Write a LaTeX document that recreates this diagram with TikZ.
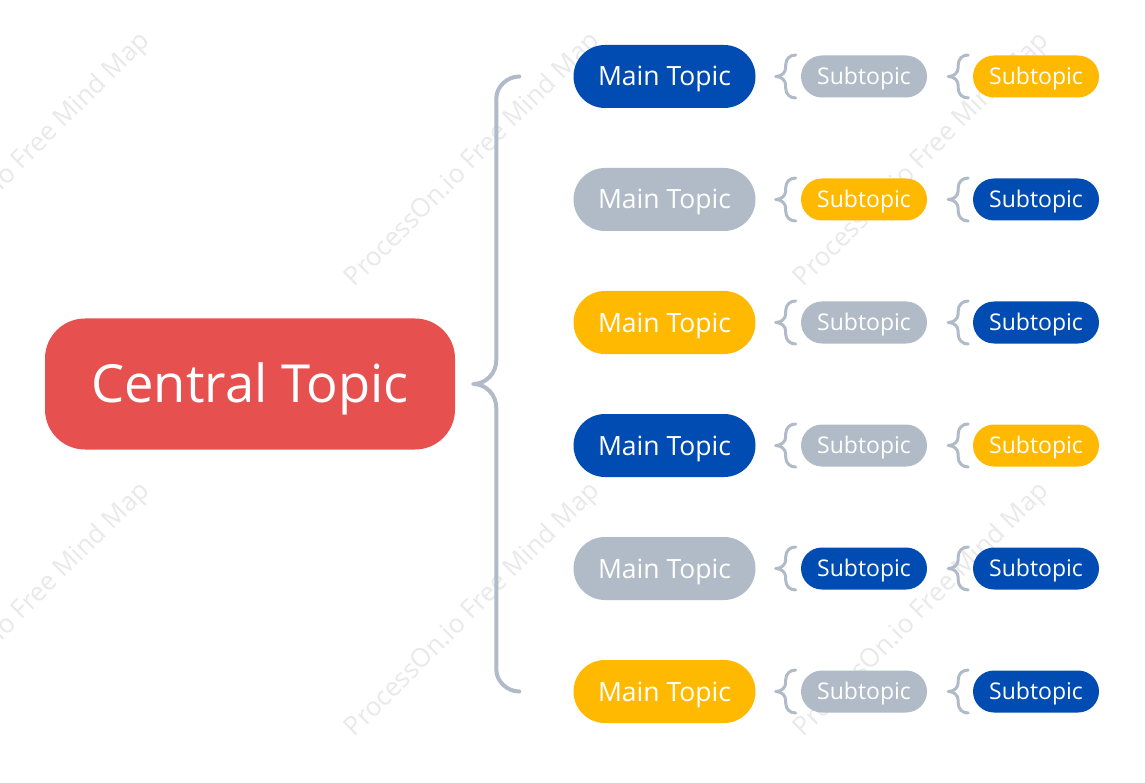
\documentclass[tikz,border=0pt]{standalone}
\usepackage{fontspec}
\setmainfont{Open Sans}
\usetikzlibrary{calc}
\definecolor{cblue}{RGB}{0,76,178}
\definecolor{cgray}{RGB}{176,187,199}
\definecolor{cyellow}{RGB}{255,185,0}
\definecolor{cred}{RGB}{230,80,79}
\definecolor{cline}{RGB}{176,187,199}
\definecolor{cwm}{RGB}{233,233,233}
\tikzset{
  box/.style={inner sep=0pt, text=white, text depth=0pt, align=center},
  central/.style={box, fill=cred, minimum width=410, minimum height=131, rounded corners=40, text height=37pt, font=\fontsize{52.5}{60}\selectfont},
  maintopic/.style={box, minimum width=182, minimum height=63, rounded corners=31.5, text height=19pt, font=\fontsize{26.5}{30}\selectfont},
  subtopic/.style={box, minimum width=126, minimum height=42, rounded corners=21, text height=16.4pt, font=\fontsize{23}{27}\selectfont},
  bbrace/.style={draw=cline, line width=4, line cap=round, line join=round},
  sbrace/.style={draw=cline, line width=3, line cap=round, line join=round},
  wm/.style={text=cwm, font=\fontsize{26}{30}\selectfont, rotate=45, inner sep=0pt},
  sbr/.pic={\draw[sbrace] (20,-21.5) .. controls (14,-21.5) and (10,-17.5) .. (10,-11.5) -- (10,-9)
      .. controls (10,-4) and (6,0) .. (0,0)
      .. controls (6,0) and (10,4) .. (10,9) -- (10,11.5)
      .. controls (10,17.5) and (14,21.5) .. (20,21.5);}
}
\begin{document}
\begin{tikzpicture}[x=1pt,y=-1pt]
\useasboundingbox (0,0) rectangle (1145,783);
\clip (0,0) rectangle (1145,783);
\fill[white] (0,0) rectangle (1145,783);
% watermark
\node[wm] (w1) at (23,160) {ProcessOn.io Free Mind Map};
\node[wm] (w2) at (473,160) {ProcessOn.io Free Mind Map};
\node[wm] (w3) at (922,160) {ProcessOn.io Free Mind Map};
\node[wm] (w4) at (23,610) {ProcessOn.io Free Mind Map};
\node[wm] (w5) at (473,610) {ProcessOn.io Free Mind Map};
\node[wm] (w6) at (922,610) {ProcessOn.io Free Mind Map};
% central
\node[central] (c) at (250,384) {Central Topic};
% main topics
\node[maintopic, fill=cblue]   (m1) at (664.5,76.5)  {Main Topic};
\node[maintopic, fill=cgray]   (m2) at (664.5,199.5) {Main Topic};
\node[maintopic, fill=cyellow] (m3) at (664.5,322.5) {Main Topic};
\node[maintopic, fill=cblue]   (m4) at (664.5,445.5) {Main Topic};
\node[maintopic, fill=cgray]   (m5) at (664.5,568.5) {Main Topic};
\node[maintopic, fill=cyellow] (m6) at (664.5,691.5) {Main Topic};
% subtopics column 1
\node[subtopic, fill=cgray]   (s1a) at (864,76.5)  {Subtopic};
\node[subtopic, fill=cyellow] (s2a) at (864,199.5) {Subtopic};
\node[subtopic, fill=cgray]   (s3a) at (864,322.5) {Subtopic};
\node[subtopic, fill=cgray]   (s4a) at (864,445.5) {Subtopic};
\node[subtopic, fill=cblue]   (s5a) at (864,568.5) {Subtopic};
\node[subtopic, fill=cgray]   (s6a) at (864,691.5) {Subtopic};
% subtopics column 2
\node[subtopic, fill=cyellow] (s1b) at (1036,76.5)  {Subtopic};
\node[subtopic, fill=cblue]   (s2b) at (1036,199.5) {Subtopic};
\node[subtopic, fill=cblue]   (s3b) at (1036,322.5) {Subtopic};
\node[subtopic, fill=cyellow] (s4b) at (1036,445.5) {Subtopic};
\node[subtopic, fill=cblue]   (s5b) at (1036,568.5) {Subtopic};
\node[subtopic, fill=cblue]   (s6b) at (1036,691.5) {Subtopic};
% big brace
\draw[bbrace] let \p1=(c.east), \p2=(m1.west), \p3=(m6.west) in
  (\x2-54,\y2) .. controls (\x2-66,\y2) and (\x2-77,\y2-10) .. (\x2-77,\y2-22)
  -- (\x2-77,\y1+24) .. controls (\x2-77,\y1+11) and (\x2-87,\y1) .. (\x1+18,\y1)
  .. controls (\x2-87,\y1) and (\x2-77,\y1-11) .. (\x2-77,\y1-24)
  -- (\x2-77,\y3+22) .. controls (\x2-77,\y3+10) and (\x2-66,\y3) .. (\x2-54,\y3);
% small braces
\foreach \r in {1,...,6}{
  \pic at ($(m\r.east)+(20,0)$) {sbr};
  \pic at ($(s\r a.east)+(21,0)$) {sbr};
}
\end{tikzpicture}
\end{document}
